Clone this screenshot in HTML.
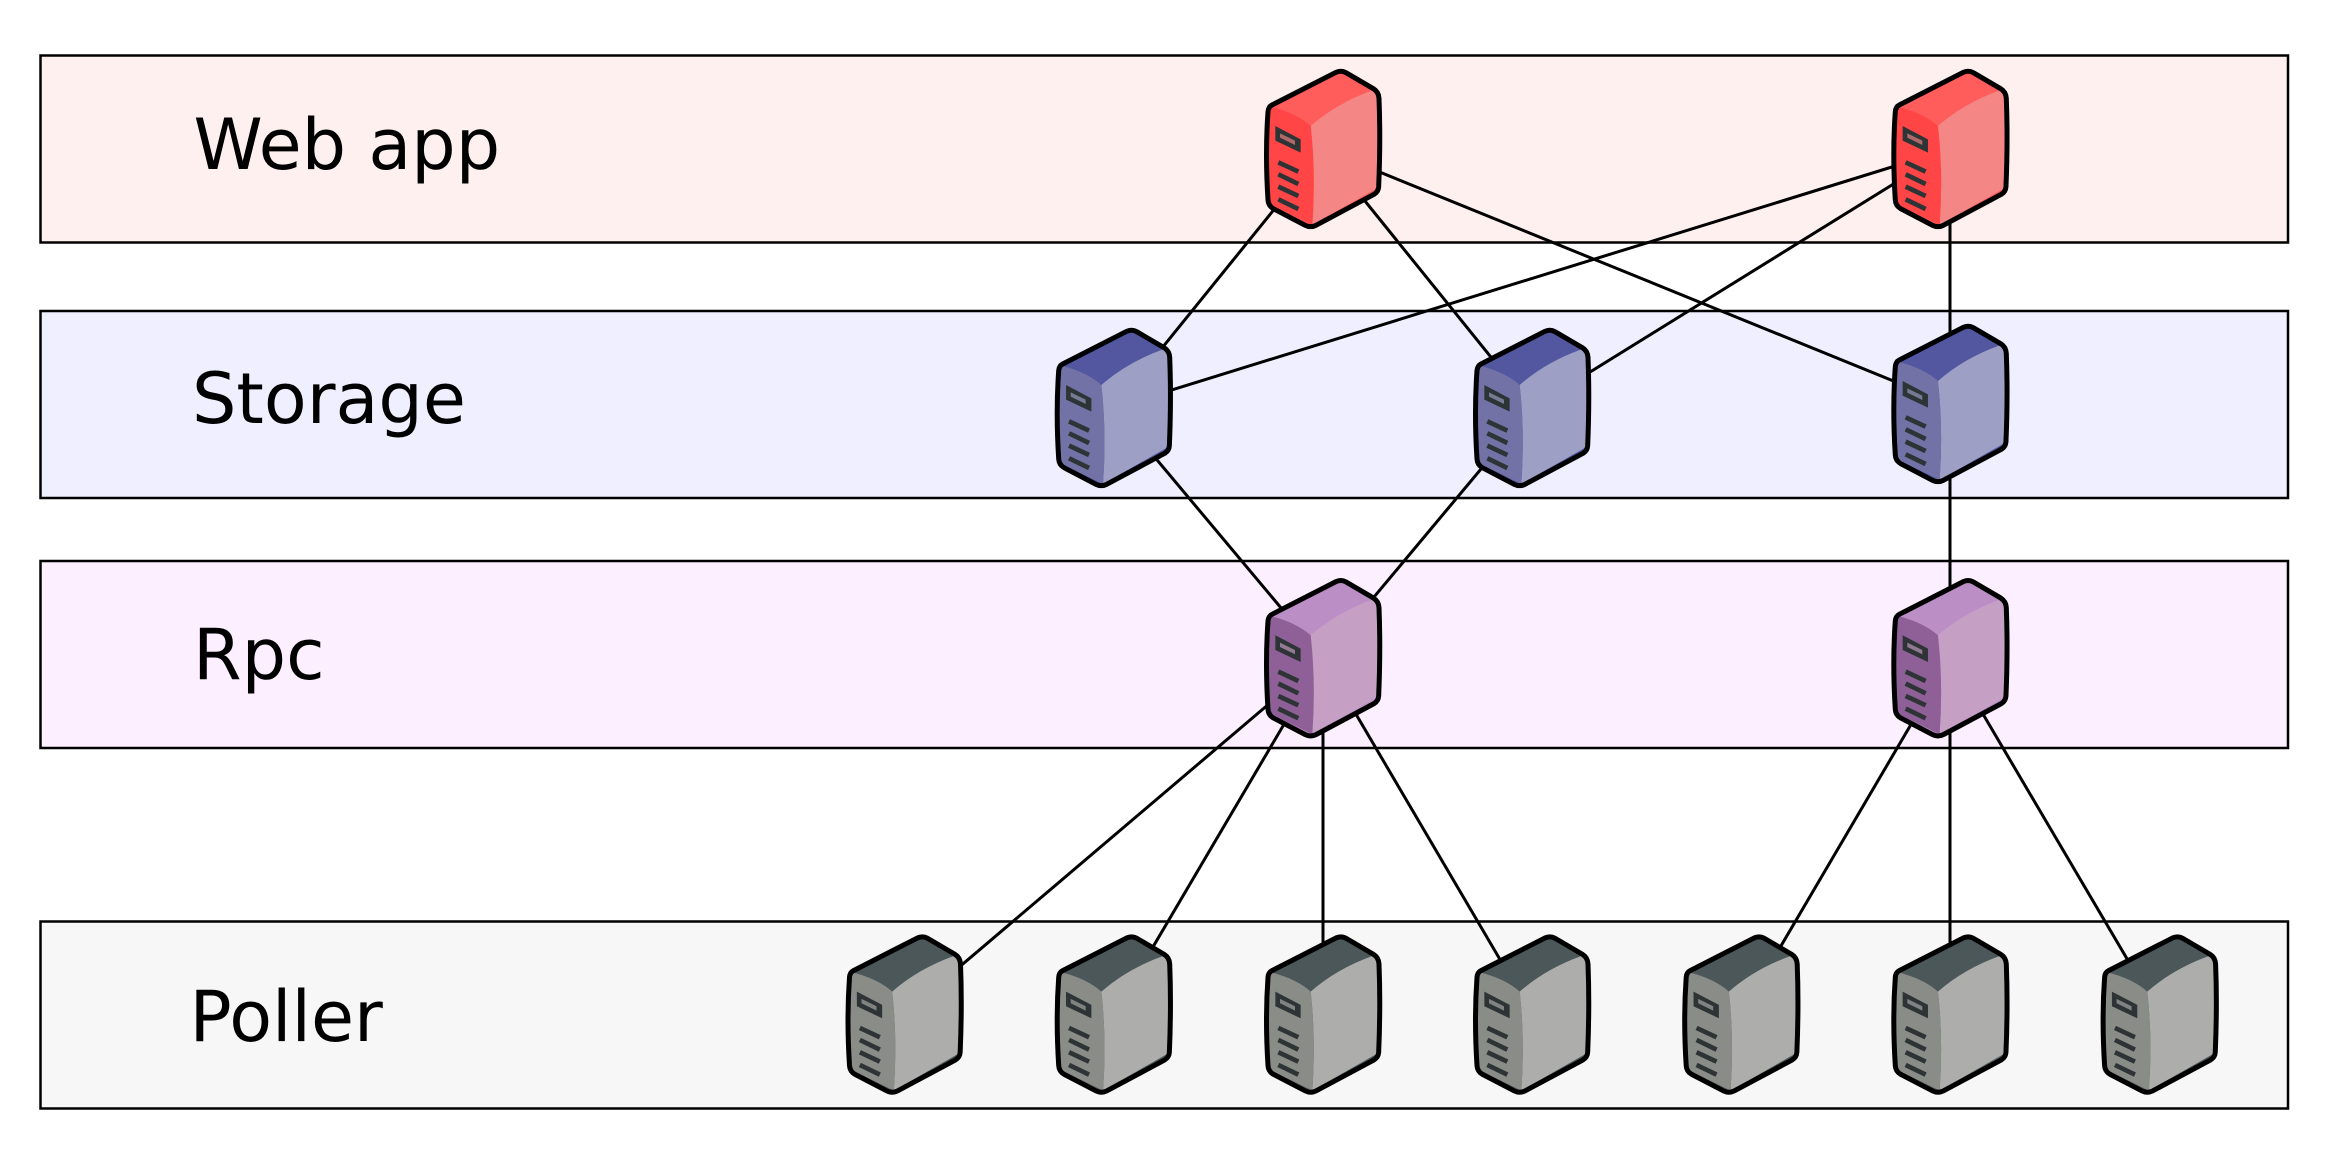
<!DOCTYPE html>
<html><head><meta charset="utf-8"><style>
html,body{margin:0;padding:0;background:#fff;width:2333px;height:1158px;overflow:hidden}
svg{display:block}
text{font-family:"DejaVu Sans",sans-serif;font-size:70px;fill:#000}
.b{stroke:#000;stroke-width:2.5px}
.c line{stroke:#000;stroke-width:3px}
</style></head><body>
<svg width="2333" height="1158" viewBox="0 0 2333 1158" xmlns="http://www.w3.org/2000/svg">
<defs>
<g id="s" transform="scale(.33333)">
<path d="M96 165L288 67Q303 60 318 68L400 116Q416 126 417 145Q422 270 416 410Q415 425 402 433L228 526Q212 534 196 526L100 476Q85 467 84 450Q75 310 84 185Q85 171 96 165Z" style="fill:var(--t)"/>
<path d="M212 228Q290 160 395 122Q410 125 411 140Q417 270 410 415L222 522L217 525Q228 370 212 228Z" style="fill:var(--r)"/>
<path d="M92 170Q170 190 212 228Q228 370 217 525L100 468Q90 462 89 452Q80 310 89 180Z" style="fill:var(--l)"/>
<path d="M96 165L288 67Q303 60 318 68L400 116Q416 126 417 145Q422 270 416 410Q415 425 402 433L228 526Q212 534 196 526L100 476Q85 467 84 450Q75 310 84 185Q85 171 96 165Z" fill="none" stroke="#000" stroke-width="15" stroke-linejoin="round"/>
<path d="M106 228L182 268V308L106 272Z" fill="#2e3436"/>
<path d="M120 250L165 272V285L120 263Z" style="fill:var(--r)" opacity=".65"/>
<path d="M115 337L175 365M115 373L175 402M115 410L175 438M115 448L175 477" stroke="#2e3436" stroke-width="14" fill="none"/>
</g>
</defs>
<rect class="b" x="40.5" y="55.5" width="2247.5" height="187" fill="#fff0f0"/>
<rect class="b" x="40.5" y="311" width="2247.5" height="187" fill="#efefff"/>
<rect class="b" x="40.5" y="561" width="2247.5" height="187" fill="#fcefff"/>
<rect class="b" x="40.5" y="921.5" width="2247.5" height="187" fill="#f7f7f7"/>
<text x="193.5" y="169">Web app</text>
<text x="192" y="423">Storage</text>
<text x="193" y="679">Rpc</text>
<text x="189.5" y="1041">Poller</text>
<g class="c">
<line x1="1323" y1="149" x2="1113.5" y2="408"/>
<line x1="1323" y1="149" x2="1532" y2="408"/>
<line x1="1323" y1="149" x2="1950" y2="404"/>
<line x1="1950" y1="149" x2="1113.5" y2="408"/>
<line x1="1950" y1="149" x2="1532" y2="408"/>
<line x1="1950" y1="149" x2="1950" y2="404"/>
<line x1="1113.5" y1="408" x2="1323" y2="658"/>
<line x1="1532" y1="408" x2="1323" y2="658"/>
<line x1="1950" y1="404" x2="1950" y2="658"/>
<line x1="1323" y1="658" x2="904" y2="1014"/>
<line x1="1323" y1="658" x2="1113.5" y2="1014"/>
<line x1="1323" y1="658" x2="1323" y2="1014"/>
<line x1="1323" y1="658" x2="1532" y2="1014"/>
<line x1="1950" y1="658" x2="1741" y2="1014"/>
<line x1="1950" y1="658" x2="1950" y2="1014"/>
<line x1="1950" y1="658" x2="2159.5" y2="1014"/>
</g>
<g style="--t:#ff5c5c;--l:#ff4545;--r:#f48686">
<use href="#s" transform="translate(1240,50)"/>
<use href="#s" transform="translate(1867.3,50)"/>
</g>
<g style="--t:#5257a0;--l:#7272a6;--r:#9da0c4">
<use href="#s" transform="translate(1030.7,309)"/>
<use href="#s" transform="translate(1449,309)"/>
<use href="#s" transform="translate(1867.3,305)"/>
</g>
<g style="--t:#bb8fc6;--l:#8e6097;--r:#c6a0c4">
<use href="#s" transform="translate(1240,559.3)"/>
<use href="#s" transform="translate(1867.3,559.3)"/>
</g>
<g style="--t:#4c5759;--l:#8a8c87;--r:#adaeac">
<use href="#s" transform="translate(821.5,915.6)"/>
<use href="#s" transform="translate(1030.7,915.6)"/>
<use href="#s" transform="translate(1240,915.6)"/>
<use href="#s" transform="translate(1449,915.6)"/>
<use href="#s" transform="translate(1658.2,915.6)"/>
<use href="#s" transform="translate(1867.3,915.6)"/>
<use href="#s" transform="translate(2076.6,915.6)"/>
</g>
</svg>
</body></html>
